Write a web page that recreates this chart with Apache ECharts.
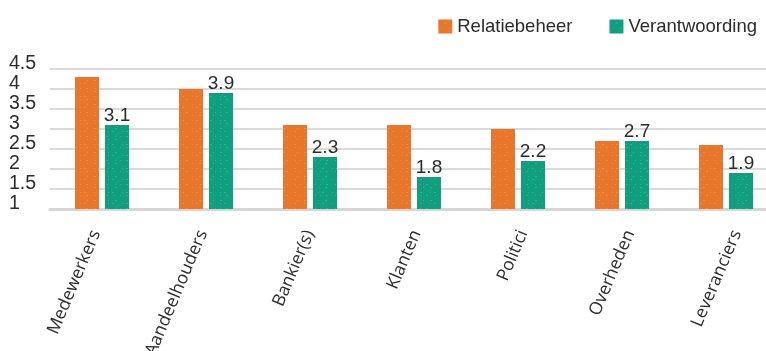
<!DOCTYPE html>
<html>
<head>
<meta charset="utf-8">
<script src="https://cdn.jsdelivr.net/npm/echarts@6/dist/echarts.min.js"></script>
<style>
  html, body { margin: 0; padding: 0; background: #fff; }
  #chart { width: 766px; height: 351px; }
</style>
</head>
<body>
<div id="chart"></div>
<script>
// Stakeholder groups on the x axis
const categories = ['Medewerkers', 'Aandeelhouders', 'Bankier(s)', 'Klanten', 'Politici', 'Overheden', 'Leveranciers'];
// Average score per group
const relatiebeheer = [4.3, 4.0, 3.1, 3.1, 3.0, 2.7, 2.6];
const verantwoording = [3.1, 3.9, 2.3, 1.8, 2.2, 2.7, 1.9];
// Value axis range
const yMin = 1;
const yMax = 4.5;
const yStep = 0.5;

const ORANGE = '#e8772b';
const GREEN = '#0f9f7f';
const TEXT = '#2b2b2b';

// light speckled print texture on the bars
const grain = {
  symbol: 'rect',
  symbolSize: 1,
  color: 'rgba(255,255,255,0.16)',
  dashArrayX: [[1, 5, 2, 7, 1, 4], [0, 3, 1, 6, 2, 9], [2, 8, 1, 3]],
  dashArrayY: [1, 2, 1, 4],
  rotation: 0
};

const chart = echarts.init(document.getElementById('chart'), null, { renderer: 'canvas' });

chart.setOption({
  animation: false,
  backgroundColor: '#ffffff',
  legend: {
    top: 17,
    right: 9,
    padding: 0,
    orient: 'horizontal',
    itemWidth: 14,
    itemHeight: 14,
    itemGap: 37,
    icon: 'rect',
    textStyle: { fontFamily: 'Liberation Sans', fontSize: 18.5, color: TEXT },
    data: ['Relatiebeheer', 'Verantwoording']
  },
  grid: [
    // plot area for the bars
    { left: 50, top: 69, width: 728, height: 140, containLabel: false, outerBoundsMode: 'none' },
    // slightly wider band that carries the slanted category names
    { left: 42.6, top: 69, width: 747.6, height: 140, containLabel: false, outerBoundsMode: 'none' }
  ],
  xAxis: [
    {
      type: 'category',
      gridIndex: 0,
      data: categories,
      axisLine: { show: true, lineStyle: { color: '#d6d6d6', width: 3 } },
      axisTick: { show: false },
      axisLabel: { show: false }
    },
    {
      type: 'category',
      gridIndex: 1,
      data: categories,
      axisLine: { show: false },
      axisTick: { show: false },
      splitLine: { show: false },
      axisLabel: {
        rotate: 67,
        margin: 22,
        fontFamily: 'Open Sans',
        fontSize: 17.5,
        color: TEXT,
        interval: 0
      }
    }
  ],
  yAxis: [
    {
      type: 'value',
      gridIndex: 0,
      min: yMin,
      max: yMax,
      interval: yStep,
      axisLine: { show: false },
      axisTick: { show: false },
      splitLine: { show: true, lineStyle: { color: '#dadada', width: 2 } },
      axisLabel: {
        align: 'left',
        verticalAlign: 'bottom',
        lineHeight: 10,
        margin: 41,
        showMinLabel: true,
        showMaxLabel: true,
        hideOverlap: false,
        fontFamily: 'Liberation Sans',
        fontSize: 19.5,
        color: TEXT
      }
    },
    {
      type: 'value',
      gridIndex: 1,
      min: yMin,
      max: yMax,
      show: false
    }
  ],
  series: [
    {
      name: 'Relatiebeheer',
      type: 'bar',
      xAxisIndex: 0,
      yAxisIndex: 0,
      data: relatiebeheer,
      barWidth: 24,
      barGap: '25%',
      itemStyle: { color: ORANGE, decal: grain }
    },
    {
      name: 'Verantwoording',
      type: 'bar',
      xAxisIndex: 0,
      yAxisIndex: 0,
      data: verantwoording,
      barWidth: 24,
      itemStyle: { color: GREEN, decal: grain },
      label: {
        show: true,
        position: 'top',
        distance: 0,
        fontFamily: 'Liberation Sans',
        fontSize: 19,
        color: TEXT
      }
    }
  ]
});
</script>
</body>
</html>
